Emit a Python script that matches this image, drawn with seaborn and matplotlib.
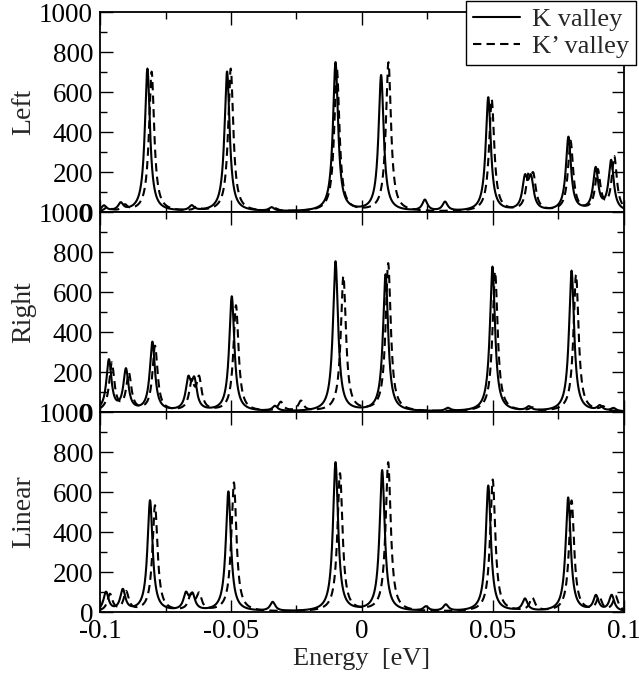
import numpy as np
import pandas as pd
import matplotlib
matplotlib.use("Agg")
import matplotlib.pyplot as plt
from matplotlib.ticker import MultipleLocator
from matplotlib.lines import Line2D
import seaborn as sns

# Resonance tables: peak energy (eV) and peak height for each valley and lead configuration
left_k_pos = [-0.0985, -0.0921, -0.0819, -0.0650, -0.0515, -0.0345, -0.0101, 0.0073,
              0.0240, 0.0317, 0.0482, 0.0622, 0.0645, 0.0788, 0.0892, 0.0951]
left_k_amp = [28, 38, 715, 25, 700, 18, 745, 680, 55, 45, 570, 150, 150, 370, 210, 250]
left_kp_pos = [-0.0970, -0.0905, -0.0803, -0.0630, -0.0501, -0.0330, -0.0096, 0.0101,
               0.0635, 0.0654, 0.0495, 0.0796, 0.0900, 0.0963]
left_kp_amp = [25, 28, 700, 18, 715, 12, 715, 745, 145, 150, 560, 350, 200, 270]

right_k_pos = [-0.0966, -0.0901, -0.0800, -0.0663, -0.0640, -0.0497, -0.0332, -0.0101,
               0.0090, 0.0328, 0.0498, 0.0637, 0.0800, 0.0908, 0.0960]
right_k_amp = [255, 205, 345, 145, 140, 575, 25, 750, 685, 15, 725, 20, 705, 25, 15]
right_kp_pos = [-0.0955, -0.0890, -0.0790, -0.0650, -0.0622, -0.0481, -0.0310, -0.0233,
                -0.0071, 0.0100, 0.0508, 0.0650, 0.0817, 0.0920]
right_kp_amp = [240, 185, 325, 135, 155, 530, 45, 50, 675, 740, 700, 15, 685, 20]

linear_k_pos = [-0.0977, -0.0913, -0.0809, -0.0672, -0.0647, -0.0510, -0.0341, -0.0101,
                0.0077, 0.0244, 0.0320, 0.0482, 0.0622, 0.0787, 0.0893, 0.0953]
linear_k_amp = [95, 105, 555, 80, 75, 600, 45, 745, 705, 22, 32, 630, 60, 570, 75, 80]
linear_kp_pos = [-0.0962, -0.0900, -0.0790, -0.0653, -0.0622, -0.0489, -0.0084, 0.0100,
                 0.0499, 0.0650, 0.0800, 0.0905, 0.0968]
linear_kp_amp = [85, 95, 530, 75, 80, 645, 690, 745, 660, 65, 555, 70, 75]

half_width = 0.00118  # HWHM of each resonance (eV)

panel_names = ["Left", "Right", "Linear"]
valley_names = ["K valley", "K\u2019 valley"]
x_ticks = [-0.1, -0.05, 0.0, 0.05, 0.1]
x_tick_labels = ["-0.1", "-0.05", "0", "0.05", "0.1"]
y_ticks = [0, 200, 400, 600, 800, 1000]
y_tick_labels = ["0", "200", "400", "600", "800", "1000"]

tables = {
    "Left": [(left_k_pos, left_k_amp), (left_kp_pos, left_kp_amp)],
    "Right": [(right_k_pos, right_k_amp), (right_kp_pos, right_kp_amp)],
    "Linear": [(linear_k_pos, linear_k_amp), (linear_kp_pos, linear_kp_amp)],
}

energy = np.linspace(-0.1, 0.1, 4001)


def spectrum(pos, amp):
    pos = np.asarray(pos)[:, None]
    amp = np.asarray(amp)[:, None]
    return (amp * half_width**2 / ((energy - pos) ** 2 + half_width**2)).sum(axis=0)


frames = []
for panel in panel_names:
    for valley, (pos, amp) in zip(valley_names, tables[panel]):
        frames.append(pd.DataFrame({"energy": energy, "dos": spectrum(pos, amp),
                                    "valley": valley, "panel": panel}))
df = pd.concat(frames, ignore_index=True)

sns.set_theme(style="ticks")
plt.rcParams["font.family"] = ["Liberation Serif", "DejaVu Serif"]

fig, axes = plt.subplots(3, 1, sharex=True, figsize=(6.39, 6.75), dpi=100)
fig.subplots_adjust(left=0.1565, right=0.9765, top=0.9822, bottom=0.0933, hspace=0)

dash_map = {valley_names[0]: "", valley_names[1]: (4, 2.5)}

for ax, panel in zip(axes, panel_names):
    sns.lineplot(data=df[df["panel"] == panel], x="energy", y="dos", style="valley",
                 dashes=dash_map, color="black", linewidth=1.5, estimator=None,
                 sort=False, legend=False, ax=ax)
    ax.set_xlim(-0.1, 0.1)
    ax.set_ylim(0, 1000)
    ax.set_yticks(y_ticks, y_tick_labels)
    ax.yaxis.set_minor_locator(MultipleLocator(100))
    ax.xaxis.set_minor_locator(MultipleLocator(0.025))
    ax.tick_params(which="both", direction="in", top=True, right=True,
                   colors="black", labelsize=19.5, pad=5, width=1.0)
    ax.tick_params(which="major", length=9)
    ax.tick_params(which="minor", length=5)
    for s in ax.spines.values():
        s.set_linewidth(1.3)
        s.set_color("black")
    ax.set_ylabel(panel, fontsize=20)
    ax.yaxis.set_label_coords(-0.122, 0.5)
    ax.set_xlabel("")

axes[-1].set_xticks(x_ticks, x_tick_labels)
axes[-1].set_xlabel("Energy  [eV]", fontsize=19, labelpad=3)

handles = [Line2D([], [], color="black", lw=1.5, linestyle="-"),
           Line2D([], [], color="black", lw=1.5, dashes=(4, 2.5))]
leg = fig.legend(handles, valley_names, loc="upper right",
                 bbox_to_anchor=(636 / 639, 674 / 675), fontsize=19,
                 frameon=True, fancybox=False, framealpha=1, edgecolor="black",
                 handlelength=1.8, handletextpad=0.45, borderpad=0.25,
                 labelspacing=0.15, borderaxespad=0)
leg.get_frame().set_linewidth(1.0)

fig.savefig("out.png", dpi=100)
